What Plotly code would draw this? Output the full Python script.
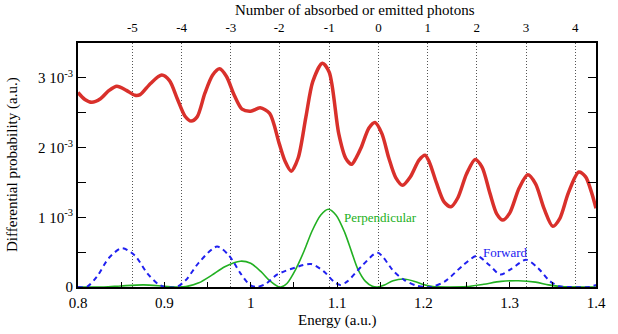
import plotly.graph_objects as go

# ---- data (energies in a.u., probabilities in units of 1e-3) ----
total_E = [0.800, 0.808, 0.816, 0.826, 0.836, 0.845, 0.856, 0.866, 0.872, 0.884, 0.897, 0.906,
           0.915, 0.924, 0.931, 0.938, 0.947, 0.956, 0.964, 0.972, 0.981, 0.990, 1.000, 1.011,
           1.022, 1.033, 1.040, 1.047, 1.055, 1.064, 1.072, 1.083, 1.091, 1.102, 1.110, 1.117,
           1.122, 1.128, 1.137, 1.144, 1.152, 1.160, 1.168, 1.176, 1.185, 1.195, 1.202, 1.207,
           1.215, 1.224, 1.232, 1.240, 1.250, 1.260, 1.268, 1.277, 1.285, 1.292, 1.300, 1.311,
           1.321, 1.330, 1.340, 1.350, 1.358, 1.368, 1.380, 1.388, 1.395, 1.400]
total_P = [2.79, 2.69, 2.65, 2.70, 2.82, 2.88, 2.82, 2.75, 2.76, 2.92, 3.04, 2.96,
           2.70, 2.45, 2.38, 2.44, 2.78, 3.04, 3.13, 3.02, 2.75, 2.55, 2.52, 2.57,
           2.49, 2.06, 1.80, 1.66, 1.85, 2.44, 2.95, 3.21, 3.08, 2.20, 1.85, 1.76,
           1.85, 2.00, 2.28, 2.36, 2.20, 1.85, 1.57, 1.46, 1.58, 1.82, 1.89, 1.79,
           1.50, 1.22, 1.15, 1.28, 1.62, 1.83, 1.72, 1.35, 1.05, 0.96, 1.06, 1.42,
           1.61, 1.48, 1.12, 0.87, 0.98, 1.35, 1.65, 1.58, 1.35, 1.13]

perp_E = [0.800, 0.830, 0.850, 0.876, 0.900, 0.915, 0.925, 0.940, 0.955, 0.970, 0.988, 1.000,
          1.012, 1.022, 1.032, 1.035, 1.042, 1.052, 1.062, 1.071, 1.081, 1.090, 1.099, 1.109,
          1.117, 1.124, 1.133, 1.141, 1.147, 1.155, 1.165, 1.177, 1.190, 1.200, 1.211, 1.230,
          1.250, 1.270, 1.290, 1.310, 1.330, 1.345, 1.360, 1.400]
perp_P = [0.0, 0.0, 0.015, 0.03, 0.01, 0.0, 0.005, 0.06, 0.17, 0.29, 0.37, 0.34,
          0.22, 0.09, 0.005, 0.0, 0.05, 0.25, 0.52, 0.80, 1.03, 1.115, 1.03, 0.78,
          0.50, 0.26, 0.08, 0.01, 0.0, 0.03, 0.09, 0.114, 0.08, 0.035, 0.005, 0.0,
          0.005, 0.04, 0.08, 0.09, 0.07, 0.03, 0.005, 0.0]

fwd_E = [0.800, 0.810, 0.822, 0.836, 0.851, 0.866, 0.880, 0.893, 0.901, 0.914, 0.925, 0.940,
         0.961, 0.975, 0.988, 0.999, 1.007, 1.018, 1.031, 1.052, 1.070, 1.085, 1.097, 1.104,
         1.112, 1.128, 1.147, 1.166, 1.178, 1.192, 1.209, 1.225, 1.245, 1.262, 1.276, 1.289,
         1.302, 1.319, 1.333, 1.346, 1.357, 1.370, 1.392, 1.400]
fwd_P = [0.0, 0.0, 0.15, 0.42, 0.557, 0.45, 0.2, 0.04, 0.0, 0.0, 0.1, 0.35,
         0.58, 0.45, 0.2, 0.03, 0.0, 0.05, 0.18, 0.28, 0.33, 0.22, 0.07, 0.03,
         0.08, 0.29, 0.49, 0.22, 0.10, 0.02, 0.0, 0.08, 0.30, 0.445, 0.32, 0.18,
         0.26, 0.39, 0.27, 0.09, 0.01, 0.0, 0.0, 0.03]

photon_numbers = ["-5", "-4", "-3", "-2", "-1", "0", "1", "2", "3", "4"]
photon_energies = [0.863, 0.920, 0.977, 1.033, 1.091, 1.148, 1.205, 1.262, 1.319, 1.376]

x_ticks = [0.8, 0.9, 1.0, 1.1, 1.2, 1.3, 1.4]
x_ticktext = ["0.8", "0.9", "1", "1.1", "1.2", "1.3", "1.4"]
y_ticks = [0, 1, 2, 3]
y_ticktext = ["0", "1 10<sup>-3</sup>", "2 10<sup>-3</sup>", "3 10<sup>-3</sup>"]

RED = "#d9302b"
GREEN = "#22b022"
BLUE = "#2020f0"
FONT = "Liberation Serif, Times New Roman, DejaVu Serif, serif"

fig = go.Figure()
fig.add_trace(go.Scatter(x=total_E, y=total_P, mode="lines",
                         line=dict(color=RED, width=3.5, shape="spline", smoothing=0.8),
                         hoverinfo="skip", showlegend=False))
fig.add_trace(go.Scatter(x=perp_E, y=perp_P, mode="lines",
                         line=dict(color=GREEN, width=1.6, shape="spline", smoothing=0.8),
                         hoverinfo="skip", showlegend=False))
fig.add_trace(go.Scatter(x=fwd_E, y=fwd_P, mode="lines",
                         line=dict(color=BLUE, width=2, dash="5px,4px", shape="spline", smoothing=0.8),
                         hoverinfo="skip", showlegend=False))
# invisible trace carrying the top (photon-number) axis
fig.add_trace(go.Scatter(x=photon_energies, y=[0] * len(photon_energies), xaxis="x2",
                         mode="markers", marker=dict(opacity=0), hoverinfo="skip",
                         showlegend=False))

fig.update_layout(
    width=618, height=334,
    margin=dict(l=78, r=12, t=43, b=47),
    paper_bgcolor="white", plot_bgcolor="white",
    font=dict(family=FONT, size=15, color="black"),
    xaxis=dict(range=[0.8, 1.4], tickvals=x_ticks, ticktext=x_ticktext,
               ticks="inside", ticklen=5, tickwidth=1, tickcolor="black",
               minor=dict(dtick=0.05, tick0=0.8, ticks="inside", ticklen=5, tickcolor="black"),
               showline=True, linewidth=2, linecolor="black", mirror=False,
               showgrid=False, zeroline=False, ticklabelstandoff=1,
               tickfont=dict(size=15, family=FONT)),
    xaxis2=dict(range=[0.8, 1.4], overlaying="x", side="top", anchor="y",
                tickvals=photon_energies, ticktext=photon_numbers, ticks="",
                showline=True, linewidth=2, linecolor="black",
                showgrid=True, gridcolor="#555555", griddash="1px,2px", gridwidth=1,
                zeroline=False, ticklabelstandoff=4, tickfont=dict(size=13, family=FONT)),
    yaxis=dict(range=[0, 3.5], tickvals=y_ticks, ticktext=y_ticktext,
               ticks="inside", ticklen=8, tickwidth=1, tickcolor="black",
               minor=dict(dtick=0.5, tick0=0, ticks="inside", ticklen=8, tickcolor="black"),
               showline=True, linewidth=2, linecolor="black", mirror="ticks",
               showgrid=False, zeroline=False, tickfont=dict(size=15, family=FONT)),
    annotations=[
        dict(text="Perpendicular", x=1.1053, y=1.0, xref="x", yref="y",
             xanchor="left", yanchor="middle", showarrow=False,
             font=dict(color=GREEN, size=13, family=FONT)),
        dict(text="Forward", x=1.2663, y=0.494, xref="x", yref="y",
             xanchor="left", yanchor="middle", showarrow=False,
             font=dict(color=BLUE, size=13, family=FONT)),
        dict(text="Energy (a.u.)", x=0.5, y=0, xref="paper", yref="paper",
             xanchor="center", yanchor="middle", yshift=-33, showarrow=False,
             font=dict(size=15, family=FONT)),
        dict(text="Number of absorbed or emitted photons", x=(360 - 78) / 528, y=1,
             xref="paper", yref="paper", xanchor="center", yanchor="middle",
             yshift=33, showarrow=False, font=dict(size=15, family=FONT)),
        dict(text="Differential probability (a.u.)", x=0, y=0.5, xref="paper", yref="paper",
             xanchor="center", yanchor="middle", xshift=-66, textangle=-90,
             showarrow=False, font=dict(size=15, family=FONT)),
    ],
)

fig.write_html("out.html")
